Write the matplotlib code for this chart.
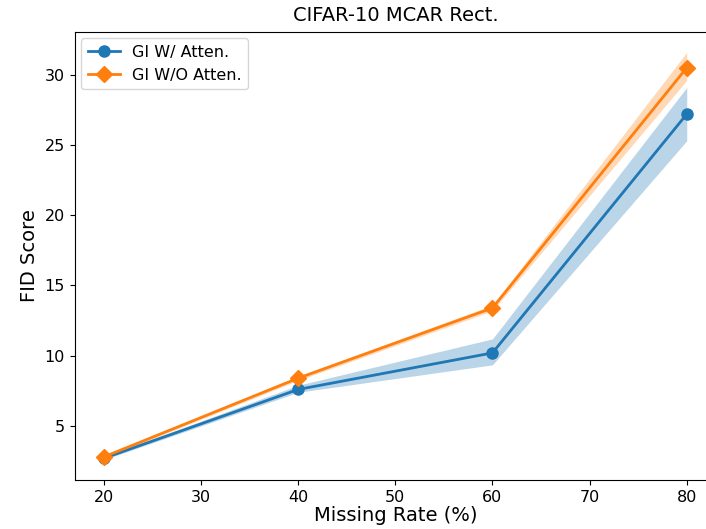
import numpy as np
import matplotlib
matplotlib.use('Agg')
import matplotlib.pyplot as plt

# 缺失率
missing_rate = [20, 40, 60, 80]
# GI 带注意力
with_att = [2.7, 7.6, 10.2, 27.2]
with_att_lo = [2.6, 7.4, 9.35, 25.3]
with_att_hi = [2.8, 7.9, 11.2, 29.1]
# GI 不带注意力
without_att = [2.8, 8.4, 13.4, 30.5]
without_att_lo = [2.7, 8.25, 13.2, 29.6]
without_att_hi = [2.9, 8.55, 13.6, 31.6]

fig = plt.figure(figsize=(7.06, 5.29), dpi=100)
ax = fig.add_axes([0.106, 0.0926, 0.908, 0.847])

ax.plot(missing_rate, with_att, color='#1f77b4', marker='o', markersize=8,
        linewidth=2, label='GI W/ Atten.')
ax.fill_between(missing_rate, with_att_lo, with_att_hi, color='#1f77b4',
                alpha=0.3, linewidth=0)
ax.plot(missing_rate, without_att, color='#ff7f0e', marker='D', markersize=8,
        linewidth=2, label='GI W/O Atten.')
ax.fill_between(missing_rate, without_att_lo, without_att_hi, color='#ff7f0e',
                alpha=0.3, linewidth=0)

ax.set_title('CIFAR-10 MCAR Rect.', fontsize=14, pad=8)
ax.set_xlabel('Missing Rate (%)', fontsize=14, labelpad=1)
ax.set_ylabel('FID Score', fontsize=14)
ax.tick_params(labelsize=11.5)
ax.legend(loc='upper left', fontsize=11.5, borderaxespad=0.4)

fig.savefig('out.png', dpi=100)
